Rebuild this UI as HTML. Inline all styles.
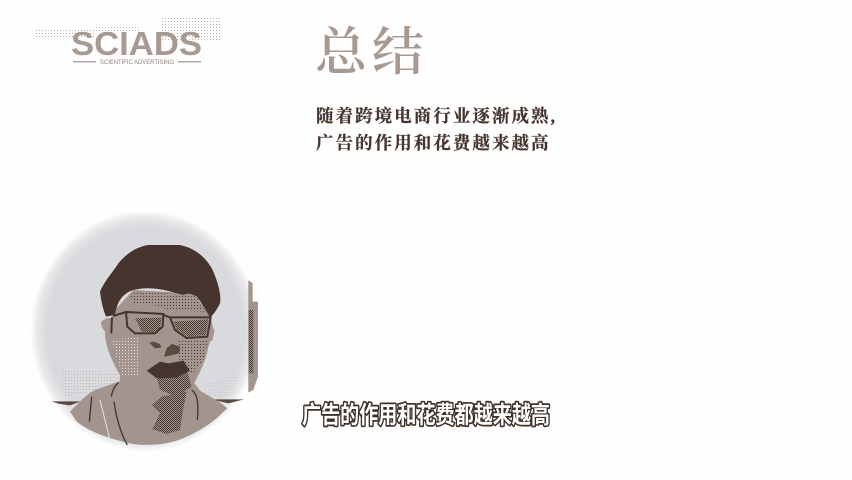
<!DOCTYPE html>
<html lang="zh">
<head>
<meta charset="utf-8">
<title>总结</title>
<style>
html,body{margin:0;padding:0;background:#fff;}
#stage{position:relative;width:852px;height:480px;overflow:hidden;background:#fefefe;}
svg{position:absolute;left:0;top:0;}
text{font-family:"Liberation Sans","Noto Sans CJK SC",sans-serif;}
.serif{font-family:"Liberation Serif","Noto Serif CJK SC",serif;}
</style>
</head>
<body>
<div id="stage">
<svg width="852" height="480" viewBox="0 0 852 480">
<defs>
<radialGradient id="halo" cx="50%" cy="50%" r="50%">
<stop offset="0" stop-color="#d9dadd"/>
<stop offset=".86" stop-color="#d9dadd"/>
<stop offset=".94" stop-color="#e8e8ea"/>
<stop offset="1" stop-color="#ffffff"/>
</radialGradient>
<pattern id="dark-dither" width="6" height="6" patternUnits="userSpaceOnUse">
<rect width="6" height="6" fill="#a3958d"/>
<rect width="3" height="3" fill="#45352e"/>
<rect x="3" y="3" width="3" height="3" fill="#45352e"/>
</pattern>
<pattern id="sparse-dither" width="9" height="9" patternUnits="userSpaceOnUse">
<rect width="9" height="9" fill="#a3958d"/>
<rect width="3" height="3" fill="#45352e"/>
</pattern>
<pattern id="light-dither" width="9" height="9" patternUnits="userSpaceOnUse">
<rect width="9" height="9" fill="#a3958d"/>
<rect width="3" height="3" fill="#e3e3e5"/>
</pattern>
<pattern id="bg-dither" width="9" height="9" patternUnits="userSpaceOnUse">
<rect width="3" height="3" fill="#a3958d"/>
</pattern>
<pattern id="mark-dither" width="3" height="3" patternUnits="userSpaceOnUse">
<rect width="1" height="1" fill="#b9b1ab"/>
</pattern>
</defs>

<g fill="url(#mark-dither)">
<rect x="36" y="28" width="60" height="11"/>
<rect x="96" y="26" width="45" height="6"/>
<rect x="160" y="17" width="62" height="24"/>
</g>

<g>
<text x="71" y="55" font-size="33" font-weight="700" fill="#a89a92" textLength="131" lengthAdjust="spacingAndGlyphs">SCIADS</text>
<rect x="73" y="61" width="23" height="1.5" fill="#b5a9a2"/>
<rect x="178" y="61" width="23" height="1.5" fill="#b5a9a2"/>
<text x="100" y="64" font-size="6.5" fill="#8f827b" textLength="74" lengthAdjust="spacingAndGlyphs">SCIENTIFIC ADVERTISING</text>
</g>

<text class="serif" x="315" y="70" font-size="52" font-weight="600" fill="#a89a92" letter-spacing="5">总结</text>

<text class="serif" x="316" y="122" font-size="17.5" font-weight="700" fill="#45352e" stroke="#45352e" stroke-width=".25" letter-spacing="2.05">随着跨境电商行业逐渐成熟,</text>
<text class="serif" x="316" y="149" font-size="17.5" font-weight="700" fill="#45352e" stroke="#45352e" stroke-width=".25" letter-spacing="2.05">广告的作用和花费越来越高</text>

<g>
<ellipse cx="145" cy="331" rx="115" ry="121" fill="url(#halo)"/>
<g transform="translate(20 200) scale(.3333)">
<path d="M685 240L698 250V305H714V530L700 570L685 578Z" fill="#a3958d"/>
<rect x="686" y="330" width="14" height="190" fill="url(#dark-dither)"/>
<path d="M95 604H182L150 616L115 611Z" fill="#5a4a42"/>
<path d="M575 598H672L625 610Z" fill="#5a4a42"/>
<path d="M125 505L300 520L300 550L215 580L130 590Z" fill="url(#bg-dither)" opacity=".55"/>
<path d="M530 560L660 520L640 590L560 590Z" fill="url(#bg-dither)" opacity=".3"/>

<path d="M150 635C175 610 195 585 225 570L295 545H520L540 572C570 590 600 605 622 625L590 655C560 680 520 705 470 722C420 738 360 738 320 728C270 715 215 700 170 665Z" fill="#a3958d"/>
<path d="M274 590C277 570 283 558 296 548M515 570C530 580 537 600 532 660M215 590L208 665M282 605C290 660 305 705 322 735" stroke="#45352e" stroke-width="4" fill="none"/>
<path d="M240 600L270 720" stroke="#e3e3e5" stroke-width="3" fill="none"/>

<path d="M285 330L255 400C255 440 280 490 300 525L300 560L510 570C530 540 560 480 565 440L582 395L570 345L520 280L340 270Z" fill="#a3958d"/>
<path d="M243 368C250 355 268 352 276 356L280 408C262 405 245 390 243 368Z" fill="#a3958d"/>
<path d="M566 388L584 388L578 420L562 428Z" fill="#a3958d"/>
<path d="M475 420L565 420L550 480L520 520L470 500Z" fill="url(#sparse-dither)"/>
<path d="M410 530L500 510L515 560L470 590L420 570Z" fill="url(#dark-dither)"/>
<path d="M395 615L425 590L500 575L490 625L480 690L440 702L397 688L420 640Z" fill="url(#dark-dither)"/>
<path d="M275 420L360 410L358 530L305 525Z" fill="url(#light-dither)"/>

<path d="M240 275C255 240 280 215 295 190C320 160 350 140 385 135L480 135C530 145 565 180 580 215C595 250 605 290 600 310C590 330 580 345 570 352L545 310C530 285 510 275 490 285C450 275 400 255 340 270C310 280 292 300 285 345L258 350C248 325 243 300 240 275Z" fill="#45352e"/>
<path d="M330 285L345 272L530 288L555 335L450 330L400 315L340 310Z" fill="url(#sparse-dither)"/>

<g>
<path d="M345 355L425 352L420 385L400 398L365 395Z" fill="url(#dark-dither)"/>
<path d="M460 365L565 358L558 405L505 410L470 388Z" fill="url(#dark-dither)"/>
<path d="M318 336L430 342L428 380L405 400L345 400L322 380ZM450 352L572 352L562 410L500 414L465 390ZM280 348L318 336M430 345L450 352M276 352L274 400" stroke="#45352e" stroke-width="6" fill="none"/>
</g>
<path d="M388 428L400 425L420 432L424 442L405 445ZM432 470L440 445L455 432L480 440L478 460L445 468Z" fill="#5a4a42"/>
<path d="M380 512L420 485L445 490L490 482L510 512L470 533L410 535Z" fill="#45352e"/>
</g>
</g>

<text x="302" y="423" font-size="24" font-weight="700" fill="#ffffff" stroke="#3f302a" stroke-width="3.4" paint-order="stroke" stroke-linejoin="round" textLength="248" lengthAdjust="spacingAndGlyphs">广告的作用和花费都越来越高</text>
</svg>
</div>
</body>
</html>
